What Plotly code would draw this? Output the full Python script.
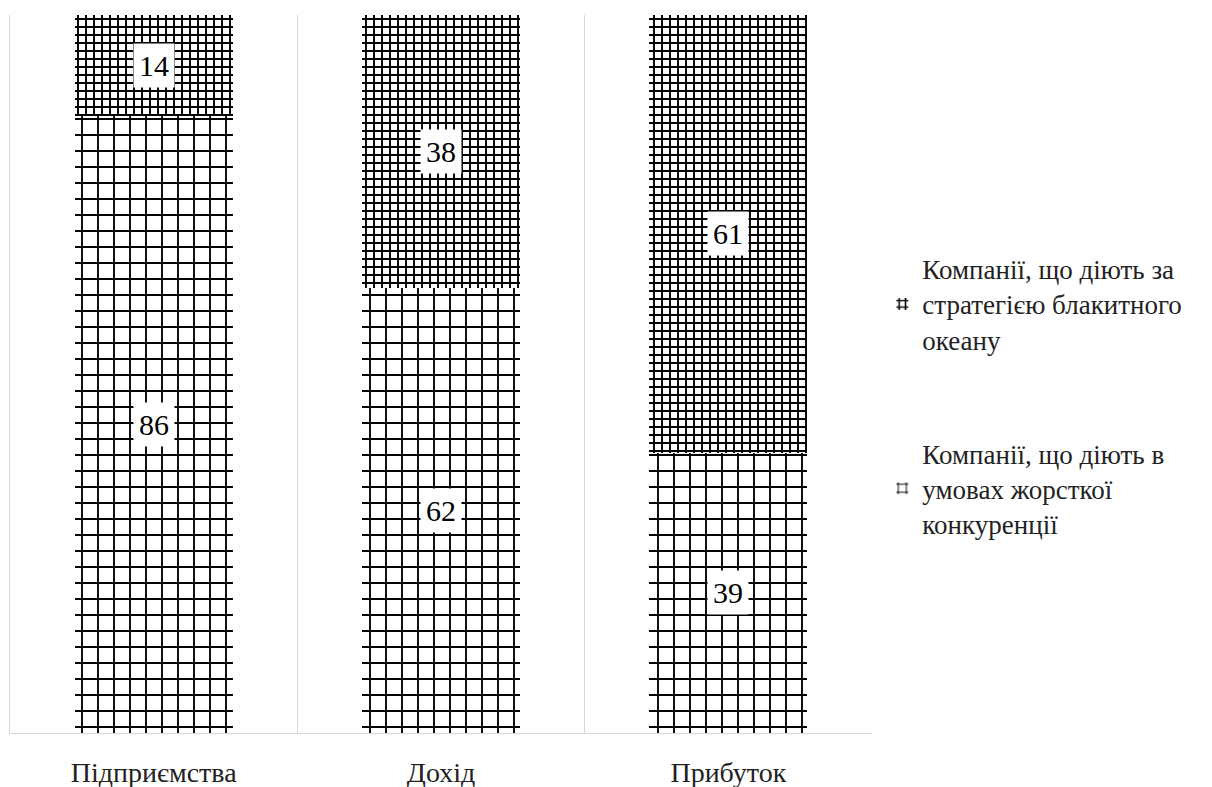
import plotly.graph_objects as go

categories = ["Підприємства", "Дохід", "Прибуток"]
competition = [86, 62, 39]
blue_ocean = [14, 38, 61]
name_competition = "Компанії, що діють в<br>умовах жорсткої<br>конкуренції"
name_blue = "Компанії, що діють за<br>стратегією блакитного<br>океану"

SERIF = "Liberation Serif, Times New Roman, serif"

fig = go.Figure()
fig.add_trace(go.Bar(
    x=categories, y=competition, name=name_competition,
    legendgroup="b", legendrank=2,
    marker=dict(color="white", line=dict(width=0),
                pattern=dict(shape="+", size=16, solidity=0.22, fgopacity=1,
                             fgcolor="black", bgcolor="white", fillmode="overlay")),
    width=0.55,
))
fig.add_trace(go.Bar(
    x=categories, y=blue_ocean, name=name_blue,
    legendgroup="a", legendrank=1,
    marker=dict(color="white", line=dict(width=0),
                pattern=dict(shape="+", size=8, solidity=0.42, fgopacity=1,
                             fgcolor="black", bgcolor="white", fillmode="overlay")),
    width=0.55,
))

annotations = []
for i, c in enumerate(categories):
    annotations.append(dict(x=c, y=competition[i] / 2, text=str(competition[i]),
                            showarrow=False, bgcolor="white", borderpad=5,
                            font=dict(family=SERIF, size=30, color="black")))
    annotations.append(dict(x=c, y=competition[i] + blue_ocean[i] / 2, text=str(blue_ocean[i]),
                            showarrow=False, bgcolor="white", borderpad=5,
                            font=dict(family=SERIF, size=30, color="black")))

fig.update_layout(
    barmode="stack",
    width=1212, height=787,
    margin=dict(l=10, r=340, t=15, b=54),
    paper_bgcolor="white", plot_bgcolor="white",
    annotations=annotations,
    showlegend=True,
    legend=dict(x=1.012, y=0.68, xanchor="left", yanchor="top",
                traceorder="grouped", tracegroupgap=76,
                font=dict(family=SERIF, size=27, color="#222"),
                itemwidth=30),
    bargap=0.45,
)
fig.update_xaxes(tickson="boundaries", showgrid=True, gridcolor="#d9d9d9", gridwidth=1,
                 showline=True, linecolor="#d9d9d9", linewidth=1, ticks="",
                 ticklabelstandoff=14, automargin=False,
                 tickfont=dict(family=SERIF, size=28, color="#222"))
fig.update_yaxes(range=[0, 100], showgrid=False, showticklabels=False, zeroline=False,
                 showline=True, linecolor="#d9d9d9", linewidth=1, automargin=False)

fig.write_html("out.html")
